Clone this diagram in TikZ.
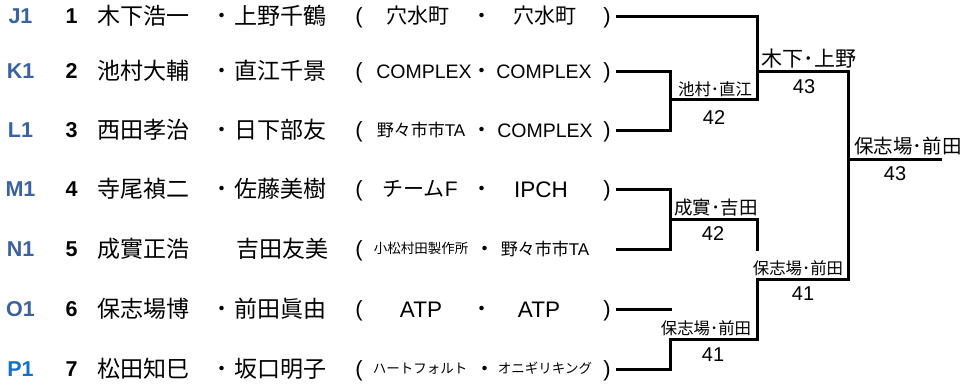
\documentclass[tikz,border=0pt]{standalone}
\usepackage{fontspec}
\setmainfont{Liberation Sans}
\newfontfamily\cjk{Noto Sans CJK JP}
\definecolor{lblue}{RGB}{58,98,160}
\definecolor{pblue}{RGB}{22,112,200}
\begin{document}
\begin{tikzpicture}[x=1pt,y=-1pt,
  every node/.style={inner sep=0pt,outer sep=0pt},
  lab/.style={font=\fontsize{21.5}{22}\selectfont\bfseries,text=lblue,text height=17.4pt,text depth=2pt},
  num/.style={font=\fontsize{21.5}{22}\selectfont\bfseries,text height=17.4pt,text depth=2pt},
  nm/.style={font=\fontsize{23}{23}\selectfont\cjk,text height=19.3pt,text depth=2.3pt,anchor=west},
  tm/.style={font=\fontsize{19.5}{20}\selectfont,text height=16.4pt,text depth=2pt},
  tmw/.style={font=\fontsize{22.5}{23}\selectfont,text height=18pt,text depth=2pt},
  tmc/.style={font=\fontsize{21}{21}\selectfont,text height=17.6pt,text depth=2.1pt},
  tms/.style={font=\fontsize{17}{17}\selectfont,text height=14.3pt,text depth=1.7pt},
  tmxs/.style={font=\fontsize{13.5}{14}\selectfont\cjk,text height=11.3pt,text depth=1.35pt},
  dotc/.style={font=\fontsize{21}{21}\selectfont\cjk,text height=17.6pt,text depth=2.1pt},
  par/.style={font=\fontsize{22}{22}\selectfont,text height=17.6pt,text depth=2.1pt},
  win/.style={font=\fontsize{#1}{#1}\selectfont\cjk},
  score/.style={font=\fontsize{20}{20}\selectfont,text height=14.3pt,text depth=0pt},
  bline/.style={line width=3pt,line cap=rect,line join=miter}
]
\useasboundingbox (0,0) rectangle (964,383);

% ---------- row 1
\node[lab] (l1) at (20.5,16) {J1};
\node[num] (n1) at (71.5,16) {1};
\node[nm] (a1) at (97,16) {木下浩一};
\node[dotc] (d1) at (222,16) {・};
\node[nm] (b1) at (234,16) {上野千鶴};
\node[par] (p1) at (359,16) {(};
\node[tmc] (t1) at (418,16) {\cjk 穴水町};
\node[dotc] (e1) at (482,16) {・};
\node[tmc] (u1) at (545,16) {\cjk 穴水町};
\node[par] (q1) at (607,16) {)};
% ---------- row 2
\node[lab] (l2) at (20.5,71) {K1};
\node[num] (n2) at (71.5,71) {2};
\node[nm] (a2) at (97,71) {池村大輔};
\node[dotc] (d2) at (222,71) {・};
\node[nm] (b2) at (234,71) {直江千景};
\node[par] (p2) at (359,71) {(};
\node[tm] (t2) at (424,71) {COMPLEX};
\node[dotc] (e2) at (482,71) {・};
\node[tm] (u2) at (544,71) {COMPLEX};
\node[par] (q2) at (607,71) {)};
% ---------- row 3
\node[lab] (l3) at (20.5,130) {L1};
\node[num] (n3) at (71.5,130) {3};
\node[nm] (a3) at (97,130) {西田孝治};
\node[dotc] (d3) at (222,130) {・};
\node[nm] (b3) at (234,130) {日下部友};
\node[par] (p3) at (359,130) {(};
\node[tms] (t3) at (421,130) {{\cjk 野々市市}TA};
\node[dotc] (e3) at (482,130) {・};
\node[tm] (u3) at (545,130) {COMPLEX};
\node[par] (q3) at (607,130) {)};
% ---------- row 4
\node[lab] (l4) at (20.5,189) {M1};
\node[num] (n4) at (71.5,189) {4};
\node[nm] (a4) at (97,189) {寺尾禎二};
\node[dotc] (d4) at (222,189) {・};
\node[nm] (b4) at (234,189) {佐藤美樹};
\node[par] (p4) at (359,189) {(};
\node[tmc] (t4) at (420,189) {{\cjk チーム}F};
\node[dotc] (e4) at (482,189) {・};
\node[tmw] (u4) at (541,189) {IPCH};
\node[par] (q4) at (607,189) {)};
% ---------- row 5
\node[lab] (l5) at (20.5,249) {N1};
\node[num] (n5) at (71.5,249) {5};
\node[nm] (a5) at (97,249) {成實正浩};
\node[nm] (b5) at (236,249) {吉田友美};
\node[par] (p5) at (359,249) {(};
\node[tmxs] (t5) at (421,249) {小松村田製作所};
\node[dotc] (e5) at (485,249) {・};
\node[tms] (u5) at (545,249) {{\cjk 野々市市}TA};
% ---------- row 6
\node[lab] (l6) at (20.5,309) {O1};
\node[num] (n6) at (71.5,309) {6};
\node[nm] (a6) at (97,309) {保志場博};
\node[dotc] (d6) at (222,309) {・};
\node[nm] (b6) at (234,309) {前田眞由};
\node[par] (p6) at (359,309) {(};
\node[tmw] (t6) at (421,309) {ATP};
\node[dotc] (e6) at (482,309) {・};
\node[tmw] (u6) at (539,309) {ATP};
\node[par] (q6) at (607,309) {)};
% ---------- row 7
\node[lab,text=pblue] (l7) at (20.5,369) {P1};
\node[num] (n7) at (71.5,369) {7};
\node[nm] (a7) at (97,369) {松田知巳};
\node[dotc] (d7) at (222,369) {・};
\node[nm] (b7) at (234,369) {坂口明子};
\node[par] (p7) at (359,369) {(};
\node[tmxs] (t7) at (420,369) {ハートフォルト};
\node[dotc] (e7) at (485,369) {・};
\node[tmxs] (u7) at (545,369) {オニギリキング};
\node[par] (q7) at (607,369) {)};

% ---------- bracket coordinates
\coordinate (s1) at (617,16);
\coordinate (s2) at (617,71);
\coordinate (s3) at (617,130);
\coordinate (s4) at (617,189);
\coordinate (s5) at (617,249);
\coordinate (s6) at (617,309);
\coordinate (s7) at (617,369);
\coordinate (m23) at (670,99);
\coordinate (m45) at (670,219);
\coordinate (m67) at (670,339);
\coordinate (k1) at (757,71);
\coordinate (k23) at (757,99);
\coordinate (k45) at (757,249);
\coordinate (k67) at (757,279);
\coordinate (f1) at (848,71);
\coordinate (f2) at (848,279);
\coordinate (fm) at (848,159);
\coordinate (fe) at (940,159);

\draw[bline] (s1) -| (k23) -- (m23);
\draw[bline] (s2) -| (m23) |- (s3);
\draw[bline] (k1) -| (f2) -- (k67);
\draw[bline] (fm) -- (fe);
\draw[bline] (s4) -| (m45) |- (s5);
\draw[bline] (m45) -| (k45);
\draw[bline] (s6) -- ++(53,0) coordinate (s6e);
\draw[bline] (s7) -| (m67) -| (k67);

% ---------- results
\node[win=16.4] (w23) at (715,89) {池村･直江};
\node[score] (c23) at (714,117) {42};
\node[win=21] (w1) at (809,59) {木下･上野};
\node[score] (c1) at (804,86) {43};
\node[win=19.5] (wf) at (908,146) {保志場･前田};
\node[score] (cf) at (895,173) {43};
\node[win=18.5] (w45) at (716,208) {成實･吉田};
\node[score] (c45) at (713,233) {42};
\node[win=16.4] (w67b) at (798,268) {保志場･前田};
\node[score] (c67b) at (803,293) {41};
\node[win=16.4] (w67) at (706,328) {保志場･前田};
\node[score] (c67) at (713,354) {41};
\end{tikzpicture}
\end{document}
